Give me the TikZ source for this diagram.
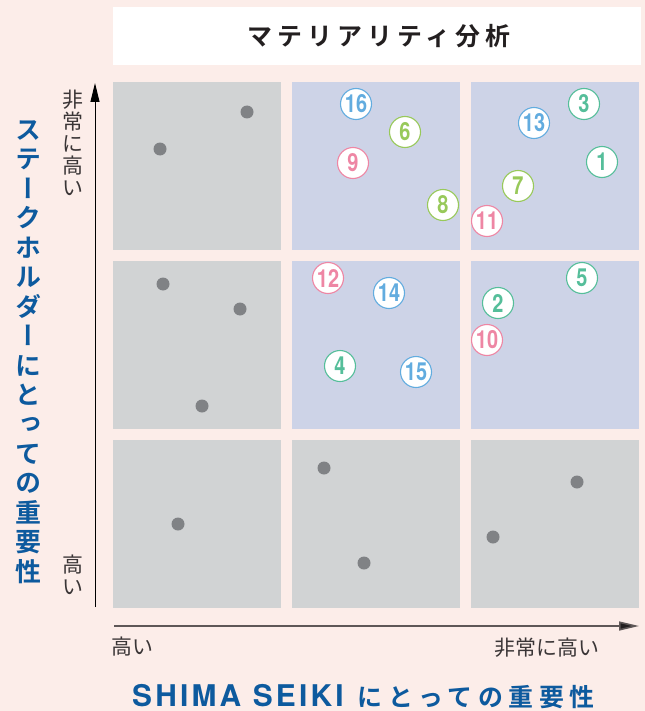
\documentclass[tikz,border=0pt]{standalone}
\usepackage{fontspec}
\usetikzlibrary{arrows.meta}
\setmainfont{Noto Sans CJK JP}
\newfontfamily\jptitle[LetterSpace=20]{Noto Sans CJK JP Bold}
\newfontfamily\jpxtitle[LetterSpace=22.8]{Noto Sans CJK JP Bold}
\newfontfamily\jpvert[RawFeature=+vert]{Noto Sans CJK JP Bold}
\newfontfamily\jplabel{Noto Sans CJK JP}
\newfontfamily\latintitle{TeX Gyre Heros}
\newfontfamily\numfont[FakeStretch=0.8]{TeX Gyre Heros}
\newcommand\lsp{\kern3.2bp}
\definecolor{bgpink}{HTML}{FCEDE9}
\definecolor{cellgrey}{HTML}{D1D3D4}
\definecolor{cellblue}{HTML}{CDD3E7}
\definecolor{dotgrey}{HTML}{808285}
\definecolor{titleblue}{HTML}{0D5A9E}
\definecolor{titleink}{HTML}{231F20}
\definecolor{labelink}{HTML}{3A3536}
\definecolor{xaxisink}{HTML}{5E5757}
\definecolor{cblue}{HTML}{62ACDF}
\definecolor{cteal}{HTML}{55BE9A}
\definecolor{clime}{HTML}{98C95A}
\definecolor{cpink}{HTML}{EE86A4}
\tikzset{
  greycell/.style={fill=cellgrey, draw=none},
  bluecell/.style={fill=cellblue, draw=none},
  gdot/.style={circle, fill=dotgrey, draw=none, minimum size=13bp, inner sep=0pt},
  numc/.style={circle, draw=#1, line width=1.1bp, fill=white, text=#1, minimum size=31bp, inner sep=0pt, font=\numfont\bfseries\fontsize{25}{25}\selectfont},
  vlabel/.style={align=center, inner sep=0pt, text=labelink, font=\jplabel\fontsize{21}{22}\selectfont},
  hlabel/.style={inner sep=0pt, text=labelink, font=\jplabel\fontsize{21}{22}\selectfont},
}
\begin{document}
\begin{tikzpicture}[x=1bp, y=-1bp]
\useasboundingbox (0,0) rectangle (645,711);
\fill[bgpink] (0,0) rectangle (645,711);
% title box
\fill[white] (113,7) rectangle (641,65);
\node[inner sep=0pt, text=titleink, font=\jptitle\fontsize{25}{25}\selectfont] (title) at (379,36) {マテリアリティ分析};
% cells
\fill[greycell] (113,82) rectangle (281,250);
\fill[bluecell] (292,82) rectangle (460,250);
\fill[bluecell] (471,82) rectangle (639,250);
\fill[greycell] (113,261) rectangle (281,429);
\fill[bluecell] (292,261) rectangle (460,429);
\fill[bluecell] (471,261) rectangle (639,429);
\fill[greycell] (113,440) rectangle (281,608);
\fill[greycell] (292,440) rectangle (460,608);
\fill[greycell] (471,440) rectangle (639,608);
% grey dots
\node[gdot] (d1) at (247,112) {};
\node[gdot] (d2) at (160,149) {};
\node[gdot] (d3) at (163,284) {};
\node[gdot] (d4) at (240,309) {};
\node[gdot] (d5) at (202,406) {};
\node[gdot] (d6) at (178,524) {};
\node[gdot] (d7) at (324,468) {};
\node[gdot] (d8) at (364,563) {};
\node[gdot] (d9) at (577,482) {};
\node[gdot] (d10) at (493,537) {};
% numbered circles
\node[numc=cblue] (n16) at (356,104) {16};
\node[numc=clime] (n6) at (405,132) {6};
\node[numc=cpink] (n9) at (353,163) {9};
\node[numc=clime] (n8) at (443,205) {8};
\node[numc=cteal] (n3) at (584,104) {3};
\node[numc=cblue] (n13) at (534,123) {13};
\node[numc=cteal] (n1) at (602,162) {1};
\node[numc=clime] (n7) at (518,186) {7};
\node[numc=cpink] (n11) at (487,221) {11};
\node[numc=cpink] (n12) at (328,278) {12};
\node[numc=cblue] (n14) at (389,293) {14};
\node[numc=cteal] (n4) at (340,366) {4};
\node[numc=cblue] (n15) at (416,372) {15};
\node[numc=cteal] (n5) at (582,278) {5};
\node[numc=cteal] (n2) at (498,303) {2};
\node[numc=cpink] (n10) at (487,340) {10};
% axes
\coordinate (ybot) at (95,607);
\coordinate (ytop) at (95,83);
\coordinate (xleft) at (114,626);
\coordinate (xright) at (639,626);
\draw[black, line width=1bp, -{Triangle[length=19bp, width=9bp]}] (ybot) -- (ytop);
\draw[xaxisink, line width=1.6bp, -{Triangle[length=20bp, width=9bp, fill=titleink]}] (xleft) -- (xright);
% axis labels
\node[vlabel] (yhi) at (73,143) {非\\常\\に\\高\\い};
\node[vlabel] (ylo) at (73,575) {高\\い};
\node[hlabel] (xlo) at (132,647) {高い};
\node[hlabel] (xhi) at (547,648) {非常に高い};
% axis titles
\node[align=center, inner sep=0pt, text=titleblue, font=\jpvert\fontsize{26}{29.6}\selectfont] (ytitle) at (28,352) {ス\\テ\\ー\\ク\\ホ\\ル\\ダ\\ー\\に\\と\\っ\\て\\の\\重\\要\\性};
\node[anchor=base west, inner sep=0pt, text=titleblue] (xtitle) at (132,706) {{\latintitle\bfseries\fontsize{30}{30}\selectfont S\lsp H\lsp I\lsp M\lsp A\lsp\ S\lsp E\lsp I\lsp K\lsp I}\hspace{14bp}{\jpxtitle\fontsize{25}{25}\selectfont にとっての重要性}};
\end{tikzpicture}
\end{document}
